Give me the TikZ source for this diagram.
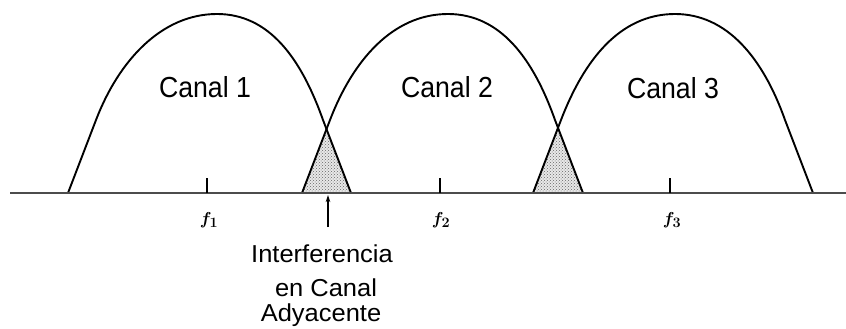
\documentclass[tikz,border=0pt]{standalone}
\usepackage{fontspec}
\usetikzlibrary{patterns,arrows.meta}
\newfontfamily\canalfont[FakeStretch=0.92]{Liberation Sans}
\newfontfamily\labelfont[FakeStretch=1.04]{Liberation Sans}
\tikzset{
  curve/.style={line width=1.9pt, black, line join=round},
  axisline/.style={line width=2.2pt, black!70},
  tickline/.style={line width=1.9pt, black},
  canaltext/.style={font=\canalfont\fontsize{29}{29}\selectfont, inner sep=0pt, anchor=base},
  labeltext/.style={font=\labelfont\fontsize{24.5}{24.5}\selectfont, inner sep=0pt, anchor=base},
  flabel/.style={font=\fontsize{19}{19}\selectfont\boldmath, inner sep=0pt},
  stipple/.style={pattern=crosshatch dots, pattern color=black!60},
}
\newcommand{\bellcurve}[3]{% left foot, peak, right foot
  \draw[curve] (#1,193) -- ({#1+28},120) .. controls ({#1+51},60) and ({#2-55},14) .. (#2,14)
     .. controls ({#2+52},14) and ({#3-50},58) .. ({#3-28},120) -- (#3,193);
}
\begin{document}
\begin{tikzpicture}[x=1pt,y=-1pt]
\useasboundingbox (0,0) rectangle (846,329);
% interference regions
\coordinate (a1l) at (302,193);
\coordinate (a1t) at (326.5,129.2);
\coordinate (a1r) at (351,193);
\coordinate (a2l) at (533,193);
\coordinate (a2t) at (558,127.9);
\coordinate (a2r) at (583,193);
\fill[gray!18] (a1l) -- (a1t) -- (a1r) -- cycle;
\fill[stipple] (a1l) -- (a1t) -- (a1r) -- cycle;
\fill[gray!18] (a2l) -- (a2t) -- (a2r) -- cycle;
\fill[stipple] (a2l) -- (a2t) -- (a2r) -- cycle;
% curves
\bellcurve{68}{217}{351}
\bellcurve{302}{448}{583}
\bellcurve{533}{675}{813}
% axis
\coordinate (axL) at (10,193);
\coordinate (axR) at (846,193);
\draw[axisline] (axL) -- (axR);
% ticks
\coordinate (t1a) at (207,193); \coordinate (t1b) at (207,178);
\coordinate (t2a) at (440,193); \coordinate (t2b) at (440,178);
\coordinate (t3a) at (670,193); \coordinate (t3b) at (670,178);
\draw[tickline] (t1a) -- (t1b);
\draw[tickline] (t2a) -- (t2b);
\draw[tickline] (t3a) -- (t3b);
% frequency labels
\node[flabel] (f1) at (209,220) {$f_{1}$};
\node[flabel] (f2) at (441,220) {$f_{2}$};
\node[flabel] (f3) at (672,220) {$f_{3}$};
% canal labels
\node[canaltext] (c1) at (205,97) {Canal 1};
\node[canaltext] (c2) at (447,97) {Canal 2};
\node[canaltext] (c3) at (673,98) {Canal 3};
% arrow
\coordinate (arrT) at (328,227);
\coordinate (arrH) at (328,195);
\draw[line width=1.3pt, -{Stealth[length=7pt,width=4.5pt]}] (arrT) -- (arrH);
% interference label
\node[labeltext] (i1) at (322,262) {Interferencia};
\node[labeltext] (i2) at (326,296) {en Canal};
\node[labeltext] (i3) at (321,321) {Adyacente};
\end{tikzpicture}
\end{document}
